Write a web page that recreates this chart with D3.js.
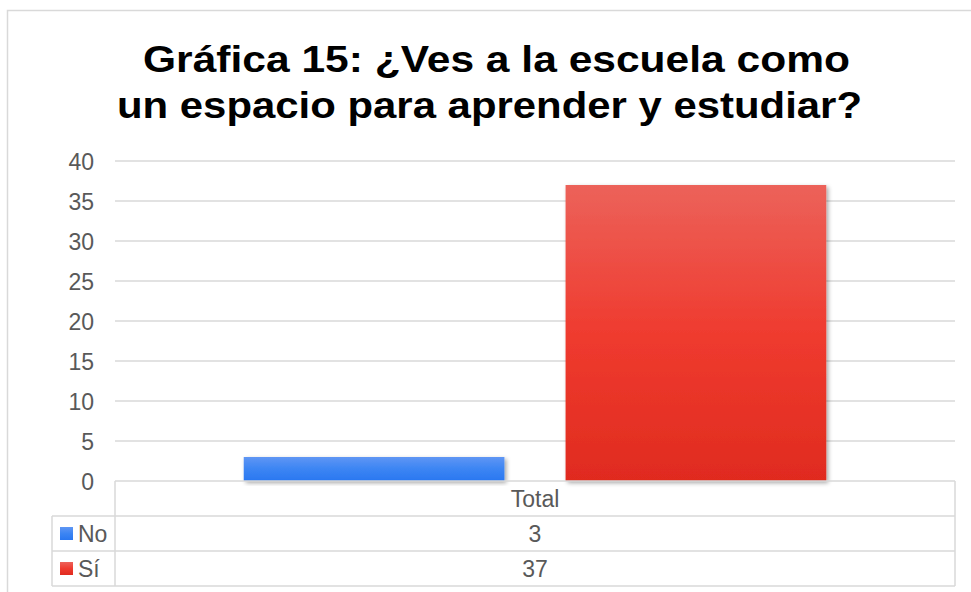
<!DOCTYPE html>
<html>
<head>
<meta charset="utf-8">
<script src="https://cdn.jsdelivr.net/npm/d3@7"></script>
<style>
  body { margin: 0; background: #fff; }
  svg { display: block; font-family: "Liberation Sans", Arial, sans-serif; }
</style>
</head>
<body>
<svg id="chart" width="971" height="592"></svg>
<script>
// data
const categories = ["Total"];
const seriesNames = ["No", "Sí"];
const seriesValues = [[3], [37]];
const yTicks = [0, 5, 10, 15, 20, 25, 30, 35, 40];
const titleLines = ["Gráfica 15: ¿Ves a la escuela como", "un espacio para aprender y estudiar?"];

const colors = [
  { top: "#5f96f4", mid: "#3c85f3", bottom: "#2977f1" },
  { top: "#ec625a", mid: "#ef3b2f", bottom: "#e02b1f" }
];

var svg = d3.select("#chart"),
    width = 971,
    height = 592;

// plot area
var pLeft = 115, pRight = 955, pTop = 161, pBottom = 481;
var rowH = 35, legendLeft = 52;

var defs = svg.append("defs");
colors.forEach(function(c, i) {
  var g = defs.append("linearGradient")
    .attr("id", "grad" + i)
    .attr("x1", 0).attr("y1", 0).attr("x2", 0).attr("y2", 1);
  g.append("stop").attr("offset", "0%").attr("stop-color", c.top);
  g.append("stop").attr("offset", "50%").attr("stop-color", c.mid);
  g.append("stop").attr("offset", "100%").attr("stop-color", c.bottom);
});
var f = defs.append("filter").attr("id", "shadow")
  .attr("x", "-10%").attr("y", "-10%").attr("width", "130%").attr("height", "130%");
f.append("feDropShadow").attr("dx", 2).attr("dy", 2).attr("stdDeviation", 2)
  .attr("flood-color", "#000").attr("flood-opacity", 0.35);

// chart border
svg.append("rect")
  .attr("x", 7.5).attr("y", 10.5)
  .attr("width", 980).attr("height", 600)
  .attr("fill", "#fff")
  .attr("stroke", "#d9d9d9").attr("stroke-width", 1.5);

// title (two lines)
var titlePos = [{ x: 143, y: 72, w: 707 }, { x: 117, y: 118, w: 745 }];
svg.append("g")
  .selectAll("text")
  .data(titleLines)
  .enter()
  .append("text")
    .attr("x", function(d, i) { return titlePos[i].x; })
    .attr("y", function(d, i) { return titlePos[i].y; })
    .attr("textLength", function(d, i) { return titlePos[i].w; })
    .attr("lengthAdjust", "spacingAndGlyphs")
    .attr("font-size", 37).attr("font-weight", "bold").attr("fill", "#000")
    .text(function(d) { return d; });

var y = d3.scaleLinear().domain([0, 40]).range([pBottom, pTop]);
var x0 = d3.scaleBand().domain(categories).range([pLeft, pRight]);
var x1 = d3.scaleBand().domain(seriesNames).range([0, x0.bandwidth()])
  .paddingInner(0.19).paddingOuter(0.40);

// gridlines
svg.append("g")
  .selectAll("line")
  .data(yTicks.filter(function(t) { return t > 0; }))
  .enter()
  .append("line")
    .attr("x1", pLeft).attr("x2", pRight)
    .attr("y1", function(d) { return y(d); })
    .attr("y2", function(d) { return y(d); })
    .attr("stroke", "#d9d9d9").attr("stroke-width", 1.5);

// y axis labels
var yAxis = d3.axisLeft(y).tickValues(yTicks).tickSize(0).tickPadding(0);
var ya = svg.append("g").attr("transform", "translate(94,0)").call(yAxis);
ya.select(".domain").remove();
ya.selectAll("text")
  .attr("font-size", 23).attr("fill", "#595959")
  .attr("font-family", "Liberation Sans, Arial, sans-serif")
  .attr("dy", "0.36em");

// bars
var bars = [];
seriesNames.forEach(function(s, i) {
  categories.forEach(function(c, j) {
    bars.push({ series: s, cat: c, value: seriesValues[i][j], idx: i });
  });
});
svg.append("g")
  .selectAll("rect")
  .data(bars)
  .enter()
  .append("rect")
    .attr("x", function(d) { return x0(d.cat) + x1(d.series); })
    .attr("y", function(d) { return y(d.value); })
    .attr("width", x1.bandwidth())
    .attr("height", function(d) { return y(0) - y(d.value); })
    .attr("fill", function(d) { return "url(#grad" + d.idx + ")"; })
    .attr("filter", "url(#shadow)");

// data table
var tbl = svg.append("g").attr("stroke", "#d9d9d9").attr("stroke-width", 1.5).attr("fill", "none");
tbl.append("line").attr("x1", pLeft).attr("x2", pRight).attr("y1", pBottom).attr("y2", pBottom);
tbl.append("line").attr("x1", pLeft).attr("x2", pLeft).attr("y1", pBottom).attr("y2", pBottom + rowH * 3);
tbl.append("line").attr("x1", pRight).attr("x2", pRight).attr("y1", pBottom).attr("y2", pBottom + rowH * 3);
for (var r = 1; r <= 3; r++) {
  tbl.append("line").attr("x1", legendLeft).attr("x2", pRight)
    .attr("y1", pBottom + rowH * r).attr("y2", pBottom + rowH * r);
}
tbl.append("line").attr("x1", legendLeft).attr("x2", legendLeft)
  .attr("y1", pBottom + rowH).attr("y2", pBottom + rowH * 3);

// header row
svg.append("g").selectAll("text")
  .data(categories)
  .enter()
  .append("text")
    .attr("x", function(d) { return x0(d) + x0.bandwidth() / 2; })
    .attr("y", pBottom + rowH / 2)
    .attr("dy", "0.36em")
    .attr("text-anchor", "middle")
    .attr("font-size", 23).attr("fill", "#595959")
    .text(function(d) { return d; });

// series rows
seriesNames.forEach(function(s, i) {
  var cy = pBottom + rowH * (i + 1) + rowH / 2;
  svg.append("rect")
    .attr("x", 60).attr("y", cy - 6.5)
    .attr("width", 13).attr("height", 13)
    .attr("fill", "url(#grad" + i + ")");
  svg.append("text")
    .attr("x", 78).attr("y", cy).attr("dy", "0.36em")
    .attr("font-size", 23).attr("fill", "#595959")
    .text(s);
  categories.forEach(function(c, j) {
    svg.append("text")
      .attr("x", x0(c) + x0.bandwidth() / 2)
      .attr("y", cy).attr("dy", "0.36em")
      .attr("text-anchor", "middle")
      .attr("font-size", 23).attr("fill", "#595959")
      .text(seriesValues[i][j]);
  });
});
</script>
</body>
</html>
